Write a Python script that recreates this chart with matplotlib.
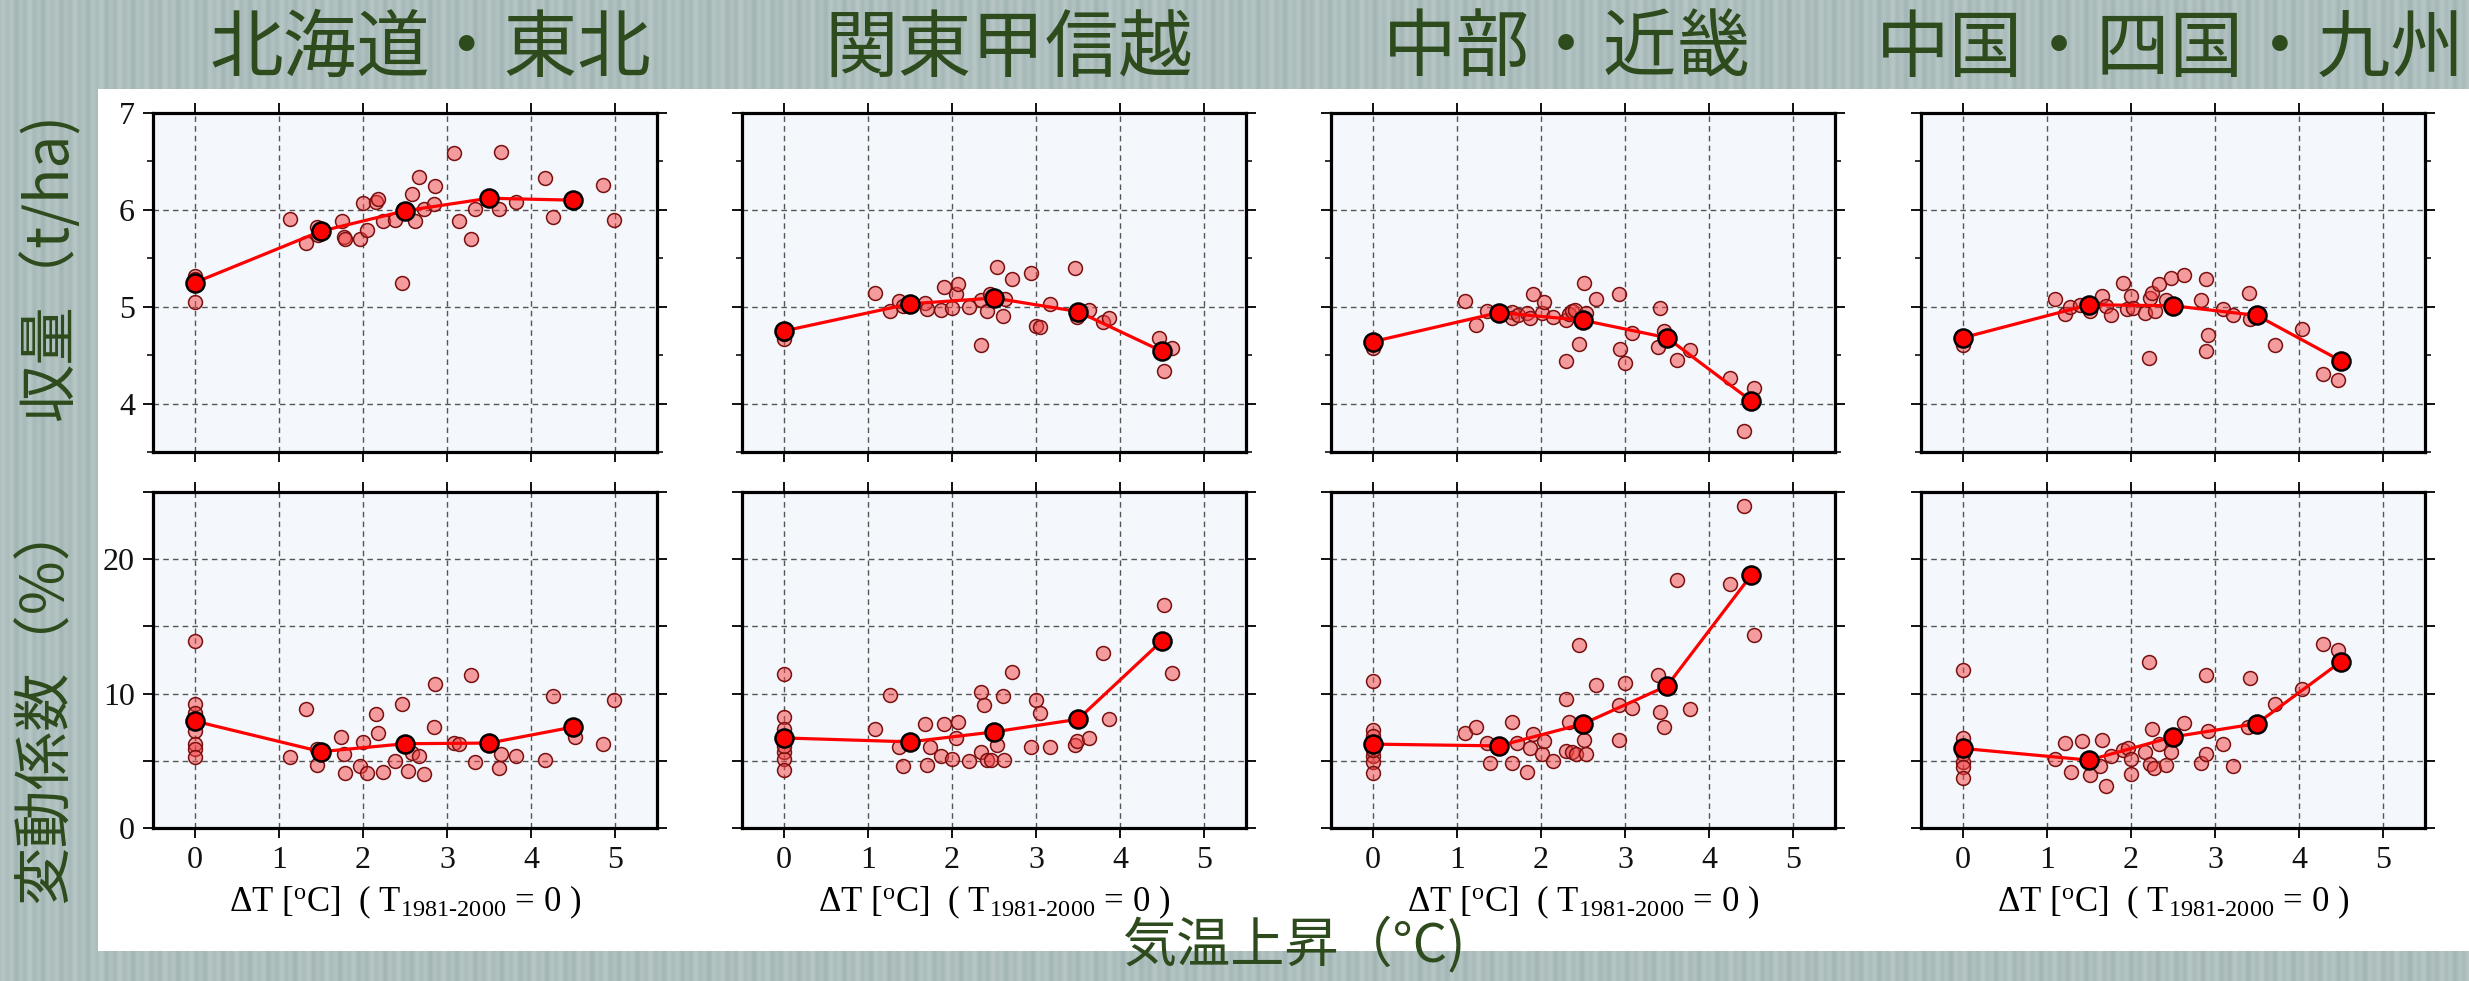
import numpy as np
import matplotlib.pyplot as plt
from matplotlib.patches import Rectangle

plt.rcParams['font.family'] = ['Liberation Serif', 'DejaVu Serif']
plt.rcParams['mathtext.fontset'] = 'custom'
plt.rcParams['mathtext.rm'] = 'Liberation Serif'
plt.rcParams['mathtext.it'] = 'Liberation Serif:italic'

regions = ['北海道・東北', '関東甲信越', '中部・近畿', '中国・四国・九州']
bin_dt = [0, 1.5, 2.5, 3.5, 4.5]

# 北海道・東北
dt_tohoku_y = [0, 0, 0, 1.13, 1.32, 1.45, 1.46, 1.75, 1.77, 1.79, 1.97, 2.00, 2.05, 2.16, 2.18, 2.24, 2.38,
               2.46, 2.58, 2.62, 2.67, 2.73, 2.84, 2.86, 3.08, 3.14, 3.29, 3.33, 3.50, 3.62, 3.64, 3.82,
               4.17, 4.26, 4.51, 4.86, 4.99]
yield_tohoku = [5.32, 5.29, 5.05, 5.91, 5.66, 5.82, 5.74, 5.89, 5.72, 5.70, 5.70, 6.07, 5.79, 6.08, 6.11,
                5.89, 5.90, 5.25, 6.16, 5.89, 6.34, 6.01, 6.06, 6.25, 6.59, 5.89, 5.70, 6.01, 6.13, 6.01,
                6.60, 6.08, 6.33, 5.93, 6.11, 6.26, 5.90]
dt_tohoku_cv = [0, 0, 0, 0, 0, 0, 0, 0, 1.13, 1.32, 1.45, 1.45, 1.74, 1.77, 1.79, 1.97, 2.00, 2.05, 2.16,
                2.18, 2.24, 2.38, 2.46, 2.53, 2.58, 2.67, 2.73, 2.84, 2.86, 3.08, 3.14, 3.29, 3.33, 3.62,
                3.64, 3.82, 4.17, 4.26, 4.52, 4.86, 4.99]
cv_tohoku = [13.88, 9.19, 8.57, 7.83, 7.21, 6.22, 5.85, 5.28, 5.28, 8.89, 5.90, 4.67, 6.77, 5.48, 4.12,
             4.62, 6.40, 4.07, 8.49, 7.04, 4.20, 4.99, 9.26, 4.25, 5.60, 5.36, 4.05, 7.53, 10.74, 6.30,
             6.22, 11.41, 4.91, 4.49, 5.48, 5.36, 5.04, 9.80, 6.79, 6.27, 9.51]
mean_yield_tohoku = [5.25, 5.78, 5.99, 6.12, 6.10]
mean_cv_tohoku = [7.95, 5.68, 6.27, 6.32, 7.51]

# 関東甲信越
dt_kanto_y = [0, 0, 1.08, 1.26, 1.37, 1.42, 1.68, 1.70, 1.87, 1.90, 2.00, 2.05, 2.07, 2.20, 2.34, 2.35,
              2.42, 2.45, 2.53, 2.61, 2.63, 2.71, 2.94, 3.00, 3.05, 3.17, 3.47, 3.49, 3.63, 3.80, 3.87,
              4.46, 4.62, 4.52]
yield_kanto = [4.67, 4.72, 5.14, 4.96, 5.06, 5.01, 5.04, 4.98, 4.97, 5.20, 4.99, 5.13, 5.23, 5.00, 4.60,
               5.07, 4.96, 5.13, 5.41, 4.90, 5.08, 5.29, 5.35, 4.80, 4.79, 5.03, 5.40, 4.89, 4.97, 4.84,
               4.88, 4.68, 4.57, 4.34]
dt_kanto_cv = [0, 0, 0, 0, 0, 0, 0, 1.08, 1.26, 1.37, 1.42, 1.68, 1.70, 1.74, 1.87, 1.90, 2.00, 2.05,
               2.07, 2.20, 2.34, 2.35, 2.38, 2.42, 2.46, 2.53, 2.61, 2.62, 2.71, 2.94, 3.00, 3.05, 3.17,
               3.47, 3.49, 3.63, 3.80, 3.87, 4.52, 4.62]
cv_kanto = [11.44, 8.29, 7.35, 5.62, 5.12, 4.31, 6.11, 7.40, 9.93, 6.06, 4.63, 7.77, 4.70, 6.04, 5.37,
            7.72, 5.17, 6.71, 7.85, 4.95, 10.12, 5.62, 9.18, 5.05, 5.05, 6.21, 9.83, 5.07, 11.63, 6.06,
            9.50, 8.59, 6.04, 6.16, 6.49, 6.73, 13.04, 8.14, 16.56, 11.51]
mean_yield_kanto = [4.75, 5.03, 5.09, 4.95, 4.54]
mean_cv_kanto = [6.70, 6.41, 7.15, 8.09, 13.93]

# 中部・近畿
dt_chubu_y = [0, 0, 1.10, 1.23, 1.36, 1.65, 1.66, 1.73, 1.83, 1.87, 1.90, 2.01, 2.03, 2.14, 2.30, 2.30,
              2.33, 2.37, 2.41, 2.45, 2.51, 2.53, 2.65, 2.93, 2.94, 3.00, 3.08, 3.39, 3.42, 3.46, 3.62,
              3.77, 4.25, 4.53, 4.42]
yield_chubu = [4.57, 4.61, 5.06, 4.81, 4.96, 4.95, 4.88, 4.91, 4.94, 4.88, 5.13, 4.94, 5.05, 4.89, 4.86,
               4.44, 4.92, 4.96, 4.97, 4.61, 5.25, 4.94, 5.08, 5.13, 4.56, 4.42, 4.73, 4.58, 4.99, 4.75,
               4.45, 4.55, 4.26, 4.16, 3.72]
dt_chubu_cv = [0, 0, 0, 0, 0, 0, 0, 1.10, 1.23, 1.36, 1.39, 1.65, 1.66, 1.72, 1.83, 1.87, 1.90, 2.01,
               2.03, 2.14, 2.30, 2.30, 2.33, 2.37, 2.42, 2.45, 2.51, 2.53, 2.65, 2.93, 2.93, 3.00, 3.08,
               3.39, 3.42, 3.46, 3.62, 3.77, 4.25, 4.42, 4.53]
cv_chubu = [10.94, 7.30, 6.86, 5.37, 4.88, 4.06, 5.79, 7.10, 7.48, 6.29, 4.83, 4.83, 7.90, 6.36, 4.18,
            5.92, 6.98, 5.54, 6.49, 4.95, 5.74, 9.58, 7.85, 5.62, 5.50, 13.59, 6.56, 5.50, 10.67, 9.13,
            6.56, 10.77, 8.94, 11.36, 8.64, 7.55, 18.44, 8.89, 18.17, 23.94, 14.33]
mean_yield_chubu = [4.64, 4.94, 4.86, 4.68, 4.03]
mean_cv_chubu = [6.24, 6.11, 7.75, 10.57, 18.79]

# 中国・四国・九州
dt_chugoku_y = [0, 0, 1.10, 1.21, 1.27, 1.39, 1.51, 1.65, 1.70, 1.76, 1.91, 1.95, 2.00, 2.02, 2.17, 2.22,
                2.23, 2.25, 2.28, 2.33, 2.42, 2.48, 2.63, 2.83, 2.89, 2.89, 2.92, 3.10, 3.22, 3.40, 3.42,
                3.71, 4.03, 4.29, 4.46]
yield_chugoku = [4.60, 4.66, 5.08, 4.92, 5.00, 5.02, 4.96, 5.11, 5.01, 4.91, 5.24, 4.98, 5.11, 4.99,
                 4.93, 4.47, 5.09, 5.14, 4.96, 5.23, 5.07, 5.30, 5.33, 5.07, 5.29, 4.54, 4.71, 4.98, 4.91,
                 5.14, 4.87, 4.60, 4.77, 4.31, 4.24]
dt_chugoku_cv = [0, 0, 0, 0, 0, 0, 1.10, 1.22, 1.28, 1.42, 1.51, 1.63, 1.65, 1.70, 1.76, 1.91, 1.96,
                 2.00, 2.00, 2.17, 2.22, 2.23, 2.25, 2.27, 2.33, 2.42, 2.48, 2.63, 2.83, 2.89, 2.89, 2.92,
                 3.10, 3.22, 3.39, 3.42, 3.71, 4.03, 4.29, 4.46]
cv_chugoku = [11.73, 6.66, 5.50, 4.88, 4.55, 3.69, 5.17, 6.31, 4.13, 6.44, 3.94, 4.63, 6.56, 3.09, 5.32,
              5.79, 5.92, 5.12, 4.01, 5.69, 12.35, 4.75, 7.35, 4.46, 6.24, 4.68, 5.69, 7.80, 4.83, 11.39,
              5.50, 7.23, 6.24, 4.63, 7.52, 11.14, 9.26, 10.32, 13.71, 13.24]
mean_yield_chugoku = [4.68, 5.02, 5.01, 4.91, 4.44]
mean_cv_chugoku = [5.92, 5.05, 6.78, 7.77, 12.38]

yield_rows = [(dt_tohoku_y, yield_tohoku, mean_yield_tohoku),
              (dt_kanto_y, yield_kanto, mean_yield_kanto),
              (dt_chubu_y, yield_chubu, mean_yield_chubu),
              (dt_chugoku_y, yield_chugoku, mean_yield_chugoku)]
cv_rows = [(dt_tohoku_cv, cv_tohoku, mean_cv_tohoku),
           (dt_kanto_cv, cv_kanto, mean_cv_kanto),
           (dt_chubu_cv, cv_chubu, mean_cv_chubu),
           (dt_chugoku_cv, cv_chugoku, mean_cv_chugoku)]

W, H = 2469, 981
fig = plt.figure(figsize=(W / 100, H / 100), dpi=100)


def rect(x0, y0, x1, y1):
    # pixel box (top-left origin) -> figure fraction
    return [x0 / W, 1 - y1 / H, (x1 - x0) / W, (y1 - y0) / H]


# striped grey-green backdrop
xs = np.arange(W)
shade = 0.5 + 0.25 * np.sin(2 * np.pi * xs / 9.0) + 0.15 * np.sin(2 * np.pi * xs / 23.0)
dark = np.array([160, 180, 179]) / 255
light = np.array([186, 201, 200]) / 255
stripes = (dark[None, :] + (light - dark)[None, :] * shade[:, None])[None, :, :]
bg = fig.add_axes([0, 0, 1, 1], zorder=-10)
bg.imshow(stripes, aspect='auto', extent=[0, 1, 0, 1], interpolation='bilinear')
bg.axis('off')

fig.add_artist(Rectangle((98 / W, 1 - 951 / H), (W - 98) / W, (951 - 89) / H,
                         transform=fig.transFigure, facecolor='white', edgecolor='none', zorder=-5))

col_left = [153, 742, 1331, 1921]
panel_w = 504
xlab = r'$\Delta$T [$^{\mathrm{o}}$C]  ( T$_{\text{1981-2000}}$ = 0 )'


def style_axes(ax):
    ax.set_facecolor('#f4f8fc')
    ax.set_xlim(-0.5, 5.5)
    ax.set_xticks(range(6))
    for s in ax.spines.values():
        s.set_linewidth(2.3)
        s.set_color('black')
    ax.tick_params(which='both', direction='out', top=True, right=True, colors='#111111',
                   labelsize=23, pad=6)
    ax.tick_params(which='major', length=7, width=1.4)
    ax.tick_params(which='minor', length=4, width=1.2)
    ax.grid(True, which='major', linestyle=(0, (4, 3)), color='#555555', linewidth=1.0)
    ax.set_axisbelow(True)


def draw(ax, dt, vals, means):
    ax.plot(dt, vals, 'o', ms=10, mfc=(0.96, 0.25, 0.25, 0.5), mec='#7a1010', mew=1.1, zorder=3)
    ax.plot(bin_dt, means, '-', color='red', lw=2.3, zorder=4)
    ax.plot(bin_dt, means, 'o', ms=13, mfc='red', mec='black', mew=1.8, zorder=5)


for i in range(4):
    x0 = col_left[i]
    ax = fig.add_axes(rect(x0, 113, x0 + panel_w, 452))
    style_axes(ax)
    ax.set_ylim(3.5, 7)
    ax.set_yticks([4, 5, 6, 7])
    ax.set_yticks([3.5, 4.5, 5.5, 6.5], minor=True)
    ax.tick_params(labelbottom=False)
    if i > 0:
        ax.tick_params(labelleft=False)
    draw(ax, *yield_rows[i])

    ax = fig.add_axes(rect(x0, 492, x0 + panel_w, 828))
    style_axes(ax)
    ax.set_ylim(0, 25)
    ax.set_yticks([0, 5, 10, 15, 20, 25])
    ax.set_yticklabels(['0', '', '10', '', '20', ''])
    if i > 0:
        ax.tick_params(labelleft=False)
    ax.set_xlabel(xlab, fontsize=25, labelpad=6)
    draw(ax, *cv_rows[i])

green = '#2e4b1d'
jp = ['Noto Sans CJK JP', 'DejaVu Sans']
title_x = [430, 1009, 1567, 2170]
for name, tx in zip(regions, title_x):
    fig.text(tx / W, 1 - 50 / H, name, family=jp, fontsize=53, color=green, ha='center', va='center')

fig.text(51 / W, 1 - 267 / H, '収量（t/ha)', family=jp, fontsize=42, color=green,
         rotation=90, ha='center', va='center')
fig.text(45 / W, 1 - 701 / H, '変動係数（%）', family=jp, fontsize=42, color=green,
         rotation=90, ha='center', va='center')
fig.text(1295 / W, 1 - 945 / H, '気温上昇（°C)', family=jp, fontsize=39, color=green,
         ha='center', va='center')

fig.savefig('out.png', dpi=100)
